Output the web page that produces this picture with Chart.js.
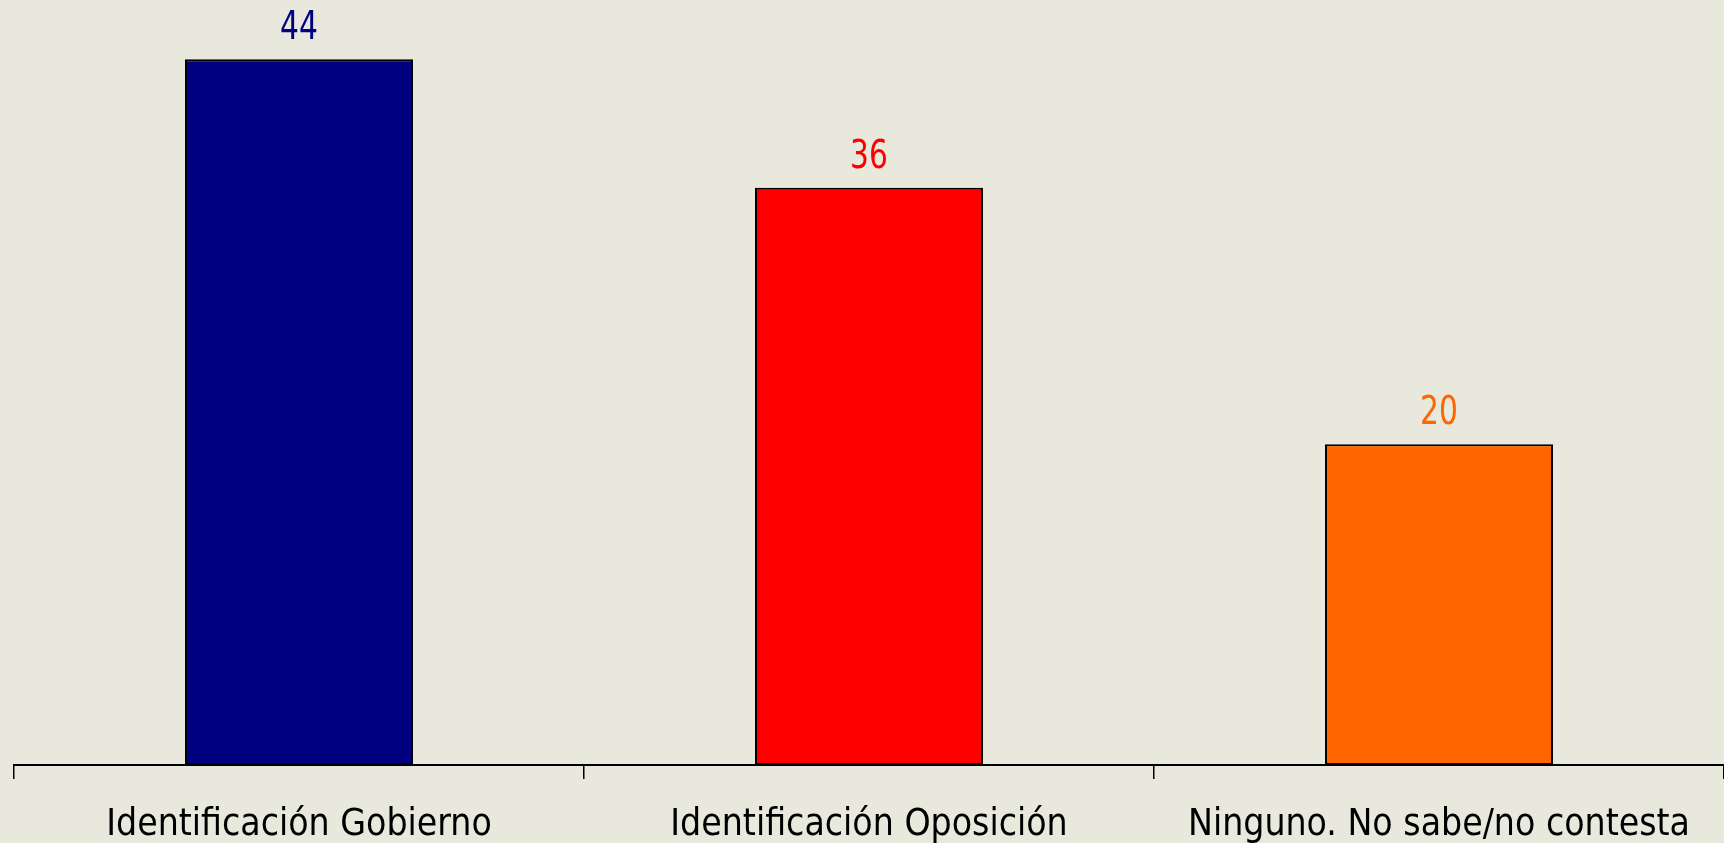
<!DOCTYPE html>
<html>
<head>
<meta charset="utf-8">
<script src="https://cdn.jsdelivr.net/npm/chart.js@4.4.1/dist/chart.umd.min.js"></script>
<style>
  html, body { margin: 0; padding: 0; background: #E8E8DD; }
  #wrap { width: 1724px; height: 843px; }
</style>
</head>
<body>
<div id="wrap"><canvas id="chartContainer"></canvas></div>
<script>
// data
var categories = ['Identificación Gobierno', 'Identificación Oposición', 'Ninguno. No sabe/no contesta'];
var values = [44, 36, 20];
var barColors = ['#000080', '#FF0000', '#FF6600'];
var labelColors = ['#000080', '#FF0000', '#FF6600'];

var fontFamily = '"DejaVu Sans Condensed", "Liberation Sans", sans-serif';

// draws the value above each bar (slightly tall, like the original font)
var valueLabels = {
    id: 'valueLabels',
    afterDatasetsDraw: function (chart) {
        var ctx = chart.ctx;
        var meta = chart.getDatasetMeta(0);
        meta.data.forEach(function (bar, i) {
            ctx.save();
            ctx.translate(bar.x, bar.y - 20);
            ctx.scale(1, 1.2);
            ctx.font = '33px ' + fontFamily;
            ctx.textAlign = 'center';
            ctx.textBaseline = 'alphabetic';
            ctx.fillStyle = labelColors[i];
            ctx.fillText(values[i], 0, 0);
            ctx.restore();
        });
    }
};

var ctx = document.getElementById('chartContainer').getContext('2d');
var chart = new Chart(ctx, {
    type: 'bar',
    data: {
        labels: categories,
        datasets: [{
            data: values,
            backgroundColor: barColors,
            borderColor: '#000000',
            borderWidth: 2,
            borderSkipped: false,
            barPercentage: 0.4,
            categoryPercentage: 1
        }]
    },
    options: {
        responsive: true,
        maintainAspectRatio: false,
        animation: false,
        layout: { padding: { left: 14, right: 0, top: 0, bottom: 0 } },
        plugins: {
            legend: { display: false },
            tooltip: { enabled: false }
        },
        scales: {
            x: {
                border: { display: true, color: '#000000', width: 2 },
                grid: {
                    display: true,
                    drawOnChartArea: false,
                    drawTicks: true,
                    tickLength: 14,
                    color: '#000000',
                    lineWidth: 1.5
                },
                ticks: {
                    color: '#000000',
                    padding: 26,
                    maxRotation: 0,
                    autoSkip: false,
                    font: { family: fontFamily, size: 37, lineHeight: 1.1 }
                },
                afterFit: function (scale) {
                    scale.height = 78;
                    scale.paddingLeft = 0;
                    scale.paddingRight = 0;
                }
            },
            y: {
                display: false,
                min: 0,
                max: 47.7
            }
        }
    },
    plugins: [valueLabels]
});
</script>
</body>
</html>
